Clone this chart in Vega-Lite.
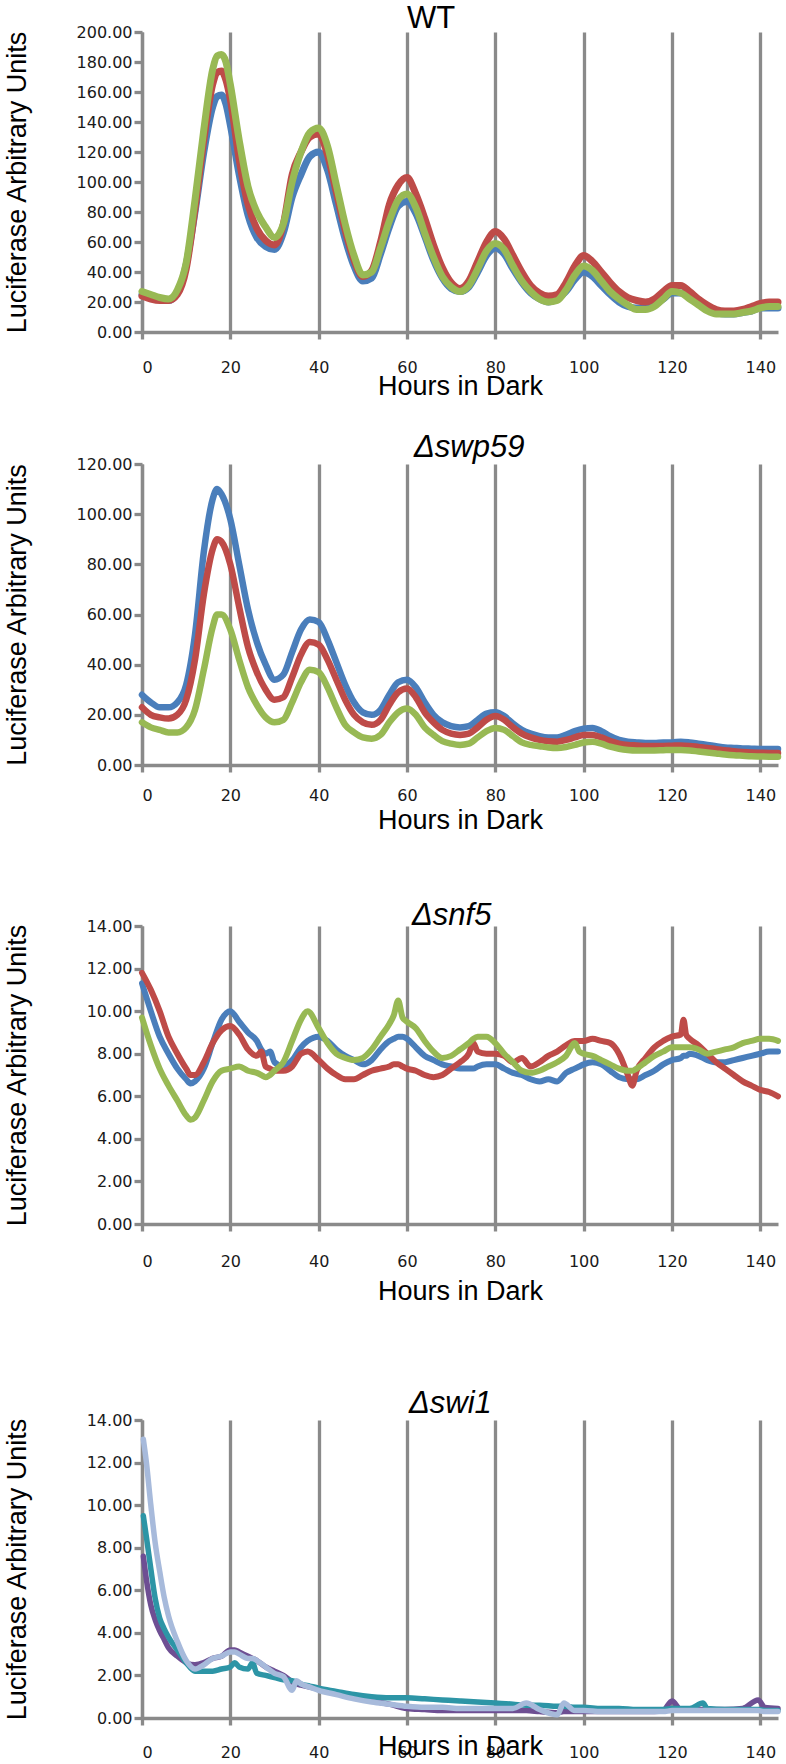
{
  "$schema": "https://vega.github.io/schema/vega-lite/v6.json",
  "padding": {"left": 3, "top": 3, "right": 5, "bottom": 0},
  "background": "white",
  "config": {
    "view": {"stroke": null},
    "font": "Liberation Sans",
    "axis": {
      "domainColor": "#8a8a8a", "domainWidth": 3.3,
      "tickColor": "#8a8a8a", "tickWidth": 3.3,
      "gridColor": "#8a8a8a", "gridWidth": 3.3, "gridOpacity": 1,
      "labelFont": "DejaVu Sans", "labelFontSize": 16, "labelColor": "#1a1a1a",
      "titleFont": "Liberation Sans", "titleFontSize": 27, "titleFontWeight": "normal", "titleColor": "#000000"
    },
    "title": {"font": "Liberation Sans", "fontSize": 31, "fontWeight": "normal", "color": "#000000", "anchor": "start", "frame": "group"}
  },
  "datasets": {
    "wt": [
      {"h":0,"s1":25,"s2":24,"s3":27},{"h":2,"s1":23,"s2":22,"s3":25},{"h":4,"s1":22,"s2":21,"s3":23},{"h":6,"s1":21,"s2":21,"s3":22},
      {"h":8,"s1":26,"s2":25,"s3":28},{"h":10,"s1":45,"s2":42,"s3":46},{"h":12,"s1":80,"s2":82,"s3":88},{"h":14,"s1":120,"s2":128,"s3":135},
      {"h":16,"s1":150,"s2":165,"s3":175},{"h":17,"s1":157,"s2":173,"s3":184},{"h":18,"s1":158,"s2":174,"s3":185},{"h":19,"s1":152,"s2":168,"s3":180},
      {"h":20,"s1":138,"s2":155,"s3":165},{"h":22,"s1":105,"s2":115,"s3":128},{"h":24,"s1":78,"s2":85,"s3":97},{"h":26,"s1":63,"s2":69,"s3":80},
      {"h":28,"s1":57,"s2":61,"s3":70},{"h":30,"s1":55,"s2":58,"s3":63},{"h":32,"s1":66,"s2":72,"s3":72},{"h":34,"s1":90,"s2":105,"s3":100},
      {"h":36,"s1":105,"s2":120,"s3":120},{"h":38,"s1":117,"s2":130,"s3":133},{"h":40,"s1":120,"s2":132,"s3":136},{"h":42,"s1":108,"s2":118,"s3":124},
      {"h":44,"s1":85,"s2":93,"s3":98},{"h":46,"s1":62,"s2":68,"s3":72},{"h":48,"s1":44,"s2":48,"s3":51},{"h":50,"s1":34,"s2":37,"s3":38},
      {"h":52,"s1":36,"s2":41,"s3":40},{"h":54,"s1":52,"s2":60,"s3":56},{"h":56,"s1":70,"s2":85,"s3":74},{"h":58,"s1":84,"s2":98,"s3":88},
      {"h":60,"s1":87,"s2":103,"s3":92},{"h":62,"s1":79,"s2":92,"s3":83},{"h":64,"s1":64,"s2":76,"s3":66},{"h":66,"s1":48,"s2":58,"s3":50},
      {"h":68,"s1":36,"s2":43,"s3":37},{"h":70,"s1":29,"s2":33,"s3":30},{"h":72,"s1":27,"s2":29,"s3":27},{"h":74,"s1":30,"s2":34,"s3":31},
      {"h":76,"s1":40,"s2":47,"s3":42},{"h":78,"s1":51,"s2":60,"s3":54},{"h":80,"s1":56,"s2":67,"s3":59},{"h":82,"s1":52,"s2":62,"s3":55},
      {"h":84,"s1":42,"s2":51,"s3":44},{"h":86,"s1":33,"s2":40,"s3":34},{"h":88,"s1":26,"s2":31,"s3":27},{"h":90,"s1":22,"s2":26,"s3":22},
      {"h":92,"s1":20,"s2":24,"s3":20},{"h":94,"s1":22,"s2":25,"s3":21},{"h":96,"s1":27,"s2":33,"s3":28},{"h":98,"s1":35,"s2":44,"s3":38},
      {"h":100,"s1":40,"s2":51,"s3":44},{"h":102,"s1":37,"s2":47,"s3":41},{"h":104,"s1":31,"s2":40,"s3":34},{"h":106,"s1":25,"s2":33,"s3":27},
      {"h":108,"s1":20,"s2":27,"s3":22},{"h":110,"s1":17,"s2":23,"s3":18},{"h":112,"s1":16,"s2":21,"s3":15},{"h":114,"s1":16,"s2":20,"s3":15},
      {"h":116,"s1":18,"s2":22,"s3":17},{"h":118,"s1":22,"s2":27,"s3":22},{"h":120,"s1":26,"s2":31,"s3":27},{"h":122,"s1":26,"s2":31,"s3":26},
      {"h":124,"s1":23,"s2":27,"s3":22},{"h":126,"s1":19,"s2":22,"s3":18},{"h":128,"s1":15,"s2":18,"s3":14},{"h":130,"s1":13,"s2":15,"s3":12},
      {"h":132,"s1":12,"s2":14,"s3":12},{"h":134,"s1":12,"s2":14,"s3":12},{"h":136,"s1":13,"s2":15,"s3":13},{"h":138,"s1":14,"s2":17,"s3":14},
      {"h":140,"s1":16,"s2":19,"s3":16},{"h":142,"s1":16,"s2":20,"s3":17},{"h":144,"s1":16,"s2":20,"s3":17}
    ],
    "swp": [
      {"h":0,"s1":28,"s2":23,"s3":17},{"h":2,"s1":25,"s2":20,"s3":15},{"h":4,"s1":23,"s2":19,"s3":14},{"h":6,"s1":23,"s2":18.5,"s3":13},
      {"h":8,"s1":25,"s2":20,"s3":13},{"h":10,"s1":32,"s2":26,"s3":15},{"h":12,"s1":52,"s2":42,"s3":22},{"h":14,"s1":85,"s2":68,"s3":38},
      {"h":16,"s1":106,"s2":86,"s3":55},{"h":17,"s1":110,"s2":90,"s3":60},{"h":18,"s1":108,"s2":89,"s3":60},{"h":20,"s1":98,"s2":80,"s3":54},
      {"h":22,"s1":80,"s2":63,"s3":42},{"h":24,"s1":62,"s2":47,"s3":31},{"h":26,"s1":49,"s2":37,"s3":24},{"h":28,"s1":40,"s2":30,"s3":19},
      {"h":30,"s1":34,"s2":26,"s3":17},{"h":32,"s1":36,"s2":27,"s3":18},{"h":34,"s1":45,"s2":35,"s3":25},{"h":36,"s1":54,"s2":44,"s3":33},
      {"h":38,"s1":58,"s2":49,"s3":38},{"h":40,"s1":57,"s2":48,"s3":37},{"h":42,"s1":50,"s2":42,"s3":31},{"h":44,"s1":41,"s2":34,"s3":23},
      {"h":46,"s1":32,"s2":26,"s3":16},{"h":48,"s1":25,"s2":20,"s3":13},{"h":50,"s1":21,"s2":17,"s3":11},{"h":52,"s1":20,"s2":16,"s3":10.5},
      {"h":54,"s1":22,"s2":18,"s3":12},{"h":56,"s1":28,"s2":24,"s3":17},{"h":58,"s1":33,"s2":29,"s3":21},{"h":60,"s1":34,"s2":30.5,"s3":22.5},
      {"h":62,"s1":31,"s2":27,"s3":20},{"h":64,"s1":25,"s2":21,"s3":15},{"h":66,"s1":20,"s2":17,"s3":12},{"h":68,"s1":17,"s2":14,"s3":9.5},
      {"h":70,"s1":15.5,"s2":12.5,"s3":8.5},{"h":72,"s1":15,"s2":12,"s3":8},{"h":74,"s1":15.5,"s2":12.5,"s3":8.5},{"h":76,"s1":18,"s2":15,"s3":11},
      {"h":78,"s1":20.5,"s2":18,"s3":13.5},{"h":80,"s1":21,"s2":19.5,"s3":14.8},{"h":82,"s1":19.5,"s2":18,"s3":14},{"h":84,"s1":16.5,"s2":15,"s3":11.5},
      {"h":86,"s1":14,"s2":12.5,"s3":9},{"h":88,"s1":12.5,"s2":11,"s3":8},{"h":90,"s1":11.5,"s2":10,"s3":7.5},{"h":92,"s1":11,"s2":9.5,"s3":7},
      {"h":94,"s1":11,"s2":9.3,"s3":6.8},{"h":96,"s1":12,"s2":10,"s3":7.2},{"h":98,"s1":13.5,"s2":11,"s3":8},{"h":100,"s1":14.5,"s2":12,"s3":9},
      {"h":102,"s1":14.8,"s2":12,"s3":9.3},{"h":104,"s1":13.5,"s2":11,"s3":8.5},{"h":106,"s1":11.5,"s2":9.5,"s3":7.3},{"h":108,"s1":10,"s2":8.5,"s3":6.5},
      {"h":110,"s1":9.3,"s2":8,"s3":6},{"h":112,"s1":9,"s2":7.8,"s3":5.8},{"h":114,"s1":8.8,"s2":7.6,"s3":5.8},{"h":116,"s1":8.8,"s2":7.6,"s3":5.8},
      {"h":118,"s1":9,"s2":7.6,"s3":5.9},{"h":120,"s1":9,"s2":7.7,"s3":6},{"h":122,"s1":9.3,"s2":7.8,"s3":6},{"h":124,"s1":9,"s2":7.6,"s3":5.8},
      {"h":126,"s1":8.5,"s2":7.2,"s3":5.4},{"h":128,"s1":8,"s2":6.8,"s3":5},{"h":130,"s1":7.5,"s2":6.3,"s3":4.6},{"h":132,"s1":7,"s2":5.9,"s3":4.2},
      {"h":134,"s1":6.8,"s2":5.5,"s3":3.9},{"h":136,"s1":6.6,"s2":5.2,"s3":3.7},{"h":138,"s1":6.5,"s2":5,"s3":3.5},{"h":140,"s1":6.4,"s2":4.9,"s3":3.4},
      {"h":142,"s1":6.4,"s2":4.8,"s3":3.3},{"h":144,"s1":6.4,"s2":4.8,"s3":3.3}
    ],
    "snf": [
      {"h":0,"s1":11.3,"s2":11.8,"s3":9.7},{"h":2,"s1":10.0,"s2":11.0,"s3":8.4},{"h":4,"s1":8.8,"s2":10.0,"s3":7.3},{"h":6,"s1":8.0,"s2":8.8,"s3":6.5},
      {"h":8,"s1":7.3,"s2":8.0,"s3":5.8},{"h":10,"s1":6.8,"s2":7.3,"s3":5.1},{"h":11,"s1":6.6,"s2":7.0,"s3":4.9},{"h":12,"s1":6.7,"s2":7.0,"s3":5.0},
      {"h":14,"s1":7.3,"s2":7.6,"s3":5.8},{"h":16,"s1":8.5,"s2":8.5,"s3":6.7},{"h":18,"s1":9.6,"s2":9.1,"s3":7.2},{"h":20,"s1":10.0,"s2":9.3,"s3":7.3},
      {"h":22,"s1":9.5,"s2":8.9,"s3":7.4},{"h":24,"s1":9.0,"s2":8.2,"s3":7.2},{"h":26,"s1":8.6,"s2":7.9,"s3":7.1},{"h":27,"s1":8.2,"s2":8.1,"s3":7.0},
      {"h":28,"s1":8.0,"s2":7.4,"s3":6.9},{"h":29,"s1":8.1,"s2":7.3,"s3":7.0},{"h":30,"s1":7.6,"s2":7.2,"s3":7.2},{"h":32,"s1":7.4,"s2":7.2,"s3":7.6},
      {"h":34,"s1":7.7,"s2":7.4,"s3":8.6},{"h":36,"s1":8.3,"s2":8.0,"s3":9.6},{"h":37.5,"s1":8.6,"s2":8.1,"s3":10.0},{"h":40,"s1":8.8,"s2":7.7,"s3":9.2},
      {"h":42,"s1":8.6,"s2":7.3,"s3":8.5},{"h":44,"s1":8.2,"s2":7.0,"s3":8.0},{"h":46,"s1":7.9,"s2":6.8,"s3":7.8},{"h":48,"s1":7.7,"s2":6.8,"s3":7.7},
      {"h":50,"s1":7.5,"s2":7.0,"s3":7.8},{"h":52,"s1":7.7,"s2":7.2,"s3":8.2},{"h":54,"s1":8.2,"s2":7.3,"s3":8.8},{"h":56,"s1":8.6,"s2":7.4,"s3":9.4},
      {"h":57,"s1":8.7,"s2":7.5,"s3":9.8},{"h":58,"s1":8.8,"s2":7.5,"s3":10.5},{"h":59,"s1":8.8,"s2":7.4,"s3":9.7},{"h":60,"s1":8.7,"s2":7.3,"s3":9.5},
      {"h":62,"s1":8.3,"s2":7.2,"s3":9.2},{"h":64,"s1":7.9,"s2":7.0,"s3":8.6},{"h":66,"s1":7.7,"s2":6.9,"s3":8.1},{"h":68,"s1":7.5,"s2":7.0,"s3":7.8},
      {"h":70,"s1":7.4,"s2":7.3,"s3":7.9},{"h":72,"s1":7.3,"s2":7.6,"s3":8.2},{"h":74,"s1":7.3,"s2":8.0,"s3":8.5},{"h":75,"s1":7.3,"s2":8.5,"s3":8.7},
      {"h":76,"s1":7.4,"s2":8.1,"s3":8.8},{"h":78,"s1":7.5,"s2":8.0,"s3":8.8},{"h":80,"s1":7.5,"s2":8.0,"s3":8.5},{"h":82,"s1":7.3,"s2":7.9,"s3":8.0},
      {"h":84,"s1":7.1,"s2":7.6,"s3":7.6},{"h":86,"s1":7.0,"s2":7.8,"s3":7.2},{"h":88,"s1":6.8,"s2":7.4,"s3":7.1},{"h":90,"s1":6.7,"s2":7.6,"s3":7.2},
      {"h":92,"s1":6.8,"s2":7.9,"s3":7.4},{"h":94,"s1":6.7,"s2":8.1,"s3":7.6},{"h":96,"s1":7.1,"s2":8.4,"s3":7.9},{"h":98,"s1":7.3,"s2":8.6,"s3":8.5},
      {"h":99,"s1":7.4,"s2":8.6,"s3":8.1},{"h":100,"s1":7.5,"s2":8.6,"s3":8.0},{"h":102,"s1":7.6,"s2":8.7,"s3":7.9},{"h":104,"s1":7.5,"s2":8.6,"s3":7.7},
      {"h":106,"s1":7.2,"s2":8.5,"s3":7.5},{"h":108,"s1":6.9,"s2":8.0,"s3":7.3},{"h":110,"s1":6.8,"s2":7.0,"s3":7.2},{"h":111,"s1":6.8,"s2":6.5,"s3":7.2},
      {"h":112,"s1":6.8,"s2":7.2,"s3":7.3},{"h":114,"s1":7.0,"s2":7.8,"s3":7.6},{"h":116,"s1":7.2,"s2":8.3,"s3":7.9},{"h":118,"s1":7.5,"s2":8.6,"s3":8.1},
      {"h":120,"s1":7.7,"s2":8.8,"s3":8.3},{"h":122,"s1":7.8,"s2":8.9,"s3":8.3},{"h":122.6,"s1":7.9,"s2":9.6,"s3":8.3},{"h":123.2,"s1":7.9,"s2":8.9,"s3":8.3},
      {"h":124,"s1":8.0,"s2":8.7,"s3":8.3},{"h":126,"s1":7.9,"s2":8.4,"s3":8.2},{"h":128,"s1":7.7,"s2":8.0,"s3":8.0},{"h":130,"s1":7.6,"s2":7.6,"s3":8.1},
      {"h":132,"s1":7.6,"s2":7.3,"s3":8.2},{"h":134,"s1":7.7,"s2":7.0,"s3":8.3},{"h":136,"s1":7.8,"s2":6.7,"s3":8.5},{"h":138,"s1":7.9,"s2":6.5,"s3":8.6},
      {"h":140,"s1":8.0,"s2":6.3,"s3":8.7},{"h":142,"s1":8.1,"s2":6.2,"s3":8.7},{"h":144,"s1":8.1,"s2":6.0,"s3":8.6}
    ],
    "swi": [
      {"h":0.3,"s1":7.6,"s2":9.5,"s3":13.1},{"h":1,"s1":6.5,"s2":8.5,"s3":12.0},{"h":2,"s1":5.3,"s2":7.0,"s3":10.0},{"h":3,"s1":4.6,"s2":5.6,"s3":8.2},
      {"h":4,"s1":4.1,"s2":4.7,"s3":6.9},{"h":5,"s1":3.7,"s2":4.2,"s3":5.7},{"h":6,"s1":3.3,"s2":3.8,"s3":4.8},{"h":8,"s1":2.9,"s2":3.2,"s3":3.6},
      {"h":10,"s1":2.6,"s2":2.6,"s3":2.7},{"h":12,"s1":2.5,"s2":2.2,"s3":2.3},{"h":14,"s1":2.6,"s2":2.2,"s3":2.5},{"h":16,"s1":2.8,"s2":2.2,"s3":2.8},
      {"h":18,"s1":2.9,"s2":2.3,"s3":2.9},{"h":20,"s1":3.2,"s2":2.4,"s3":3.1},{"h":21,"s1":3.2,"s2":2.6,"s3":3.1},{"h":22,"s1":3.1,"s2":2.4,"s3":3.0},
      {"h":24,"s1":2.9,"s2":2.3,"s3":2.8},{"h":25,"s1":2.8,"s2":2.6,"s3":2.8},{"h":26,"s1":2.7,"s2":2.1,"s3":2.7},{"h":28,"s1":2.4,"s2":2.0,"s3":2.4},
      {"h":30,"s1":2.2,"s2":1.9,"s3":2.1},{"h":32,"s1":2.0,"s2":1.8,"s3":1.95},{"h":34,"s1":1.7,"s2":1.75,"s3":1.3},{"h":35,"s1":1.6,"s2":1.7,"s3":1.75},
      {"h":36,"s1":1.55,"s2":1.6,"s3":1.6},{"h":38,"s1":1.45,"s2":1.5,"s3":1.45},{"h":40,"s1":1.35,"s2":1.4,"s3":1.3},{"h":44,"s1":1.15,"s2":1.25,"s3":1.1},
      {"h":48,"s1":0.95,"s2":1.1,"s3":0.9},{"h":52,"s1":0.8,"s2":1.0,"s3":0.75},{"h":56,"s1":0.65,"s2":0.95,"s3":0.65},{"h":60,"s1":0.45,"s2":0.95,"s3":0.55},
      {"h":64,"s1":0.4,"s2":0.9,"s3":0.5},{"h":68,"s1":0.35,"s2":0.85,"s3":0.5},{"h":72,"s1":0.35,"s2":0.8,"s3":0.45},{"h":76,"s1":0.35,"s2":0.75,"s3":0.45},
      {"h":80,"s1":0.35,"s2":0.7,"s3":0.45},{"h":84,"s1":0.35,"s2":0.65,"s3":0.45},{"h":87,"s1":0.35,"s2":0.6,"s3":0.7},{"h":90,"s1":0.3,"s2":0.6,"s3":0.4},
      {"h":94,"s1":0.25,"s2":0.55,"s3":0.15},{"h":95.5,"s1":0.3,"s2":0.55,"s3":0.7},{"h":98,"s1":0.3,"s2":0.5,"s3":0.35},{"h":100,"s1":0.3,"s2":0.5,"s3":0.35},
      {"h":104,"s1":0.3,"s2":0.45,"s3":0.3},{"h":108,"s1":0.3,"s2":0.45,"s3":0.3},{"h":112,"s1":0.3,"s2":0.4,"s3":0.3},{"h":116,"s1":0.3,"s2":0.4,"s3":0.3},
      {"h":118,"s1":0.35,"s2":0.4,"s3":0.3},{"h":120,"s1":0.8,"s2":0.45,"s3":0.35},{"h":122,"s1":0.4,"s2":0.45,"s3":0.35},{"h":124,"s1":0.4,"s2":0.45,"s3":0.35},
      {"h":127,"s1":0.4,"s2":0.7,"s3":0.35},{"h":128,"s1":0.4,"s2":0.45,"s3":0.35},{"h":132,"s1":0.4,"s2":0.4,"s3":0.35},{"h":136,"s1":0.45,"s2":0.4,"s3":0.35},
      {"h":139.5,"s1":0.85,"s2":0.4,"s3":0.35},{"h":141,"s1":0.5,"s2":0.35,"s3":0.3},{"h":144,"s1":0.45,"s2":0.35,"s3":0.3}
    ]
  },
  "spacing": 32,
  "resolve": {"scale": {"color": "independent"}},
  "vconcat": [
    {
      "data": {"name": "wt"},
      "width": 636, "height": 300,
      "title": {"text": "WT", "dx": 265, "offset": -11},
      "transform": [{"fold": ["s1", "s2", "s3"], "as": ["s", "v"]}],
      "mark": {"type": "line", "strokeWidth": 7, "strokeJoin": "round", "strokeCap": "round", "interpolate": "monotone"},
      "encoding": {
        "x": {"field": "h", "type": "quantitative", "scale": {"domain": [0, 144], "nice": false},
              "axis": {"title": "Hours in Dark", "values": [0, 20, 40, 60, 80, 100, 120, 140], "format": "d", "grid": true, "tickSize": 7, "labelPadding": 20, "titlePadding": -1.5}},
        "y": {"field": "v", "type": "quantitative", "scale": {"domain": [0, 200], "nice": false},
              "axis": {"title": "Luciferase Arbitrary Units", "values": [0, 20, 40, 60, 80, 100, 120, 140, 160, 180, 200], "format": ".2f", "grid": false, "tickSize": 8, "labelPadding": 2, "titlePadding": 45}},
        "color": {"field": "s", "type": "nominal", "scale": {"domain": ["s1", "s2", "s3"], "range": ["#4a7ebb", "#be4b48", "#98b954"]}, "legend": null}
      }
    },
    {
      "data": {"name": "swp"},
      "width": 636, "height": 301,
      "title": {"text": "Δswp59", "fontStyle": "italic", "dx": 272, "offset": -8.3},
      "transform": [{"fold": ["s1", "s2", "s3"], "as": ["s", "v"]}],
      "mark": {"type": "line", "strokeWidth": 6.5, "strokeJoin": "round", "strokeCap": "round", "interpolate": "monotone"},
      "encoding": {
        "x": {"field": "h", "type": "quantitative", "scale": {"domain": [0, 144], "nice": false},
              "axis": {"title": ["Hours in Dark", " "], "titleLineHeight": 34.4, "values": [0, 20, 40, 60, 80, 100, 120, 140], "format": "d", "grid": true, "tickSize": 7, "labelPadding": 15, "titlePadding": 4.5}},
        "y": {"field": "v", "type": "quantitative", "scale": {"domain": [0, 120], "nice": false},
              "axis": {"title": "Luciferase Arbitrary Units", "values": [0, 20, 40, 60, 80, 100, 120], "format": ".2f", "grid": false, "tickSize": 8, "labelPadding": 2, "titlePadding": 45}},
        "color": {"field": "s", "type": "nominal", "scale": {"domain": ["s1", "s2", "s3"], "range": ["#4a7ebb", "#be4b48", "#98b954"]}, "legend": null}
      }
    },
    {
      "data": {"name": "snf"},
      "width": 636, "height": 298,
      "title": {"text": "Δsnf5", "fontStyle": "italic", "dx": 270, "offset": -14},
      "transform": [{"fold": ["s1", "s2", "s3"], "as": ["s", "v"]}],
      "mark": {"type": "line", "strokeWidth": 6, "strokeJoin": "round", "strokeCap": "round", "interpolate": "monotone"},
      "encoding": {
        "x": {"field": "h", "type": "quantitative", "scale": {"domain": [0, 144], "nice": false},
              "axis": {"title": ["Hours in Dark", " "], "titleLineHeight": 51.5, "values": [0, 20, 40, 60, 80, 100, 120, 140], "format": "d", "grid": true, "tickSize": 7, "labelPadding": 22, "titlePadding": 9.5}},
        "y": {"field": "v", "type": "quantitative", "scale": {"domain": [0, 14], "nice": false},
              "axis": {"title": "Luciferase Arbitrary Units", "values": [0, 2, 4, 6, 8, 10, 12, 14], "format": ".2f", "grid": false, "tickSize": 8, "labelPadding": 2, "titlePadding": 55}},
        "color": {"field": "s", "type": "nominal", "scale": {"domain": ["s1", "s2", "s3"], "range": ["#4a7ebb", "#be4b48", "#98b954"]}, "legend": null}
      }
    },
    {
      "data": {"name": "swi"},
      "width": 636, "height": 298,
      "title": {"text": "Δswi1", "fontStyle": "italic", "dx": 267, "offset": -8},
      "transform": [{"fold": ["s1", "s2", "s3"], "as": ["s", "v"]}],
      "mark": {"type": "line", "strokeWidth": 5.5, "strokeJoin": "round", "strokeCap": "round", "interpolate": "monotone"},
      "encoding": {
        "x": {"field": "h", "type": "quantitative", "scale": {"domain": [0, 144], "nice": false},
              "axis": {"title": "Hours in Dark", "values": [0, 20, 40, 60, 80, 100, 120, 140], "format": "d", "grid": true, "tickSize": 7, "labelPadding": 19, "titlePadding": -26.5}},
        "y": {"field": "v", "type": "quantitative", "scale": {"domain": [0, 14], "nice": false},
              "axis": {"title": "Luciferase Arbitrary Units", "values": [0, 2, 4, 6, 8, 10, 12, 14], "format": ".2f", "grid": false, "tickSize": 8, "labelPadding": 2, "titlePadding": 55}},
        "color": {"field": "s", "type": "nominal", "scale": {"domain": ["s1", "s2", "s3"], "range": ["#6e4f93", "#2d95a6", "#a7badb"]}, "legend": null}
      }
    }
  ]
}
